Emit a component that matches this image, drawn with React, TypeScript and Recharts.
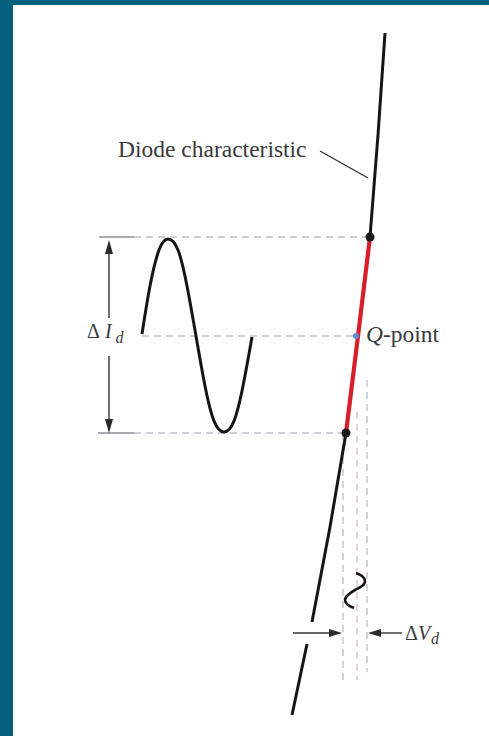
import React from "react";
import { ComposedChart, Line, Scatter, XAxis, YAxis } from "recharts";

// Drawing units: x = diode voltage axis, y = current axis (grows downward).
const W = 489;
const H = 736;

const curveUpper = [
  { x: 385, y: 33 },
  { x: 378, y: 135 },
  { x: 370, y: 237 },
];
const curveSignal = [
  { x: 370, y: 237 },
  { x: 358, y: 336 },
  { x: 346, y: 433 },
];
const curveLowerA = [
  { x: 346, y: 433 },
  { x: 330, y: 527 },
  { x: 312, y: 622 },
];
const curveLowerB = [
  { x: 307, y: 644 },
  { x: 292, y: 715 },
];
const swingEnds = [
  { x: 370, y: 237 },
  { x: 346, y: 433 },
];
const qPoint = [{ x: 356, y: 336 }];

// current waveform (one period, left of the curve)
const currentWave = [
  { x: 142, y: 334 },
  { x: 150, y: 286 },
  { x: 159, y: 250 },
  { x: 168, y: 239 },
  { x: 178, y: 250 },
  { x: 187, y: 286 },
  { x: 196, y: 336 },
  { x: 205, y: 386 },
  { x: 214, y: 421 },
  { x: 224, y: 432 },
  { x: 234, y: 421 },
  { x: 243, y: 386 },
  { x: 252, y: 337 },
];

// small voltage waveform (vertical)
const voltageWave = [
  { x: 356, y: 573 },
  { x: 362, y: 576 },
  { x: 365, y: 581 },
  { x: 362, y: 586 },
  { x: 355, y: 590 },
  { x: 348, y: 595 },
  { x: 345, y: 600 },
  { x: 348, y: 605 },
  { x: 354, y: 608 },
];

const guidesGray = [
  [{ x: 134, y: 237 }, { x: 370, y: 237 }],
  [{ x: 142, y: 336 }, { x: 356, y: 336 }],
  [{ x: 134, y: 433 }, { x: 346, y: 433 }],
  [{ x: 343, y: 433 }, { x: 343, y: 682 }],
  [{ x: 367, y: 380 }, { x: 367, y: 672 }],
];
const guidesPink = [[{ x: 357, y: 412 }, { x: 357, y: 680 }]];
const guideStubs = [
  [{ x: 99, y: 237 }, { x: 134, y: 237 }],
  [{ x: 98, y: 433 }, { x: 134, y: 433 }],
];

const arrowShafts = [
  [{ x: 109, y: 246 }, { x: 109, y: 318 }],
  [{ x: 109, y: 356 }, { x: 109, y: 426 }],
  [{ x: 293, y: 633 }, { x: 336, y: 633 }],
  [{ x: 402, y: 633 }, { x: 374, y: 633 }],
  [{ x: 320, y: 151 }, { x: 368, y: 178 }],
];
const arrowTips = [
  { x: 109, y: 240, dir: "up" },
  { x: 109, y: 433, dir: "down" },
  { x: 342, y: 633, dir: "right" },
  { x: 368, y: 633, dir: "left" },
];

const labels = [
  { x: 118, y: 157, id: "diode" },
  { x: 366, y: 342, id: "q" },
  { x: 87, y: 338, id: "di" },
  { x: 405, y: 640, id: "dv" },
];

const TEXT = "#3a3a3a";
const SERIF = "'Liberation Serif', 'DejaVu Serif', serif";

const Arrowhead = (props: any) => {
  const { cx, cy, payload } = props;
  const d = payload.dir;
  let pts = "";
  if (d === "up") pts = `${cx},${cy} ${cx - 4},${cy + 14} ${cx + 4},${cy + 14}`;
  if (d === "down") pts = `${cx},${cy} ${cx - 4},${cy - 14} ${cx + 4},${cy - 14}`;
  if (d === "right") pts = `${cx},${cy} ${cx - 13},${cy - 4} ${cx - 13},${cy + 4}`;
  if (d === "left") pts = `${cx},${cy} ${cx + 13},${cy - 4} ${cx + 13},${cy + 4}`;
  return <polygon points={pts} fill="#2b2b2b" />;
};

const LabelShape = (props: any) => {
  const { cx, cy, payload } = props;
  if (payload.id === "diode")
    return (
      <text x={cx} y={cy} fontFamily={SERIF} fontSize={23.5} fill={TEXT}>
        Diode characteristic
      </text>
    );
  if (payload.id === "q")
    return (
      <text x={cx} y={cy} fontFamily={SERIF} fontSize={23.5} fill={TEXT}>
        <tspan fontStyle="italic">Q</tspan>-point
      </text>
    );
  if (payload.id === "di")
    return (
      <text x={cx} y={cy} fontFamily={SERIF} fontSize={20} fill={TEXT}>
        Δ<tspan dx={5} fontStyle="italic">I</tspan>
        <tspan dx={4} dy={5} fontSize={16} fontStyle="italic">d</tspan>
      </text>
    );
  return (
    <text x={cx} y={cy} fontFamily={SERIF} fontSize={20} fill={TEXT}>
      Δ<tspan fontStyle="italic">V</tspan>
      <tspan dx={1} dy={4} fontSize={16} fontStyle="italic">d</tspan>
    </text>
  );
};

const seg = (pts: any[], key: string, stroke: string, width: number, dash?: string) => (
  <Line
    key={key}
    data={pts}
    dataKey="y"
    type="linear"
    stroke={stroke}
    strokeWidth={width}
    strokeDasharray={dash}
    dot={false}
    activeDot={false}
    isAnimationActive={false}
  />
);

export default function App() {
  return (
    <div style={{ position: "absolute", left: 0, top: 0, width: W, height: H, background: "#055f7d" }}>
      <div style={{ position: "absolute", left: 13, top: 5, width: W - 13, height: H - 5, background: "#ffffff" }} />
      <div style={{ position: "absolute", left: 0, top: 0 }}>
        <ComposedChart width={W} height={H} margin={{ top: 0, right: 0, bottom: 0, left: 0 }}>
          <XAxis type="number" dataKey="x" domain={[0, W]} hide />
          <YAxis type="number" dataKey="y" domain={[0, H]} reversed hide />
          {guidesGray.map((g, i) => seg(g, `gg${i}`, "#b9c0cc", 1.3, "7 5"))}
          {guidesPink.map((g, i) => seg(g, `gp${i}`, "#e9b8c4", 1.3, "7 5"))}
          {guideStubs.map((g, i) => seg(g, `gs${i}`, "#8a8f96", 1.3))}
          {arrowShafts.map((g, i) => seg(g, `as${i}`, "#333333", 1.4))}
          <Line
            data={currentWave}
            dataKey="y"
            type="natural"
            stroke="#151515"
            strokeWidth={3}
            dot={false}
            activeDot={false}
            isAnimationActive={false}
          />
          <Line
            data={voltageWave}
            dataKey="y"
            type="natural"
            stroke="#151515"
            strokeWidth={2.6}
            dot={false}
            activeDot={false}
            isAnimationActive={false}
          />
          {seg(curveUpper, "cu", "#151515", 3)}
          {seg(curveLowerA, "cla", "#151515", 3)}
          {seg(curveLowerB, "clb", "#151515", 3)}
          {seg(curveSignal, "cs", "#d81e2a", 4.2)}
          <Scatter
            data={swingEnds}
            isAnimationActive={false}
            shape={(p: any) => <circle cx={p.cx} cy={p.cy} r={4.5} fill="#1a1a1a" />}
          />
          <Scatter
            data={qPoint}
            isAnimationActive={false}
            shape={(p: any) => <circle cx={p.cx} cy={p.cy} r={3} fill="#5b8ed0" />}
          />
          <Scatter data={arrowTips} isAnimationActive={false} shape={Arrowhead} />
          <Scatter data={labels} isAnimationActive={false} shape={LabelShape} />
        </ComposedChart>
      </div>
    </div>
  );
}
